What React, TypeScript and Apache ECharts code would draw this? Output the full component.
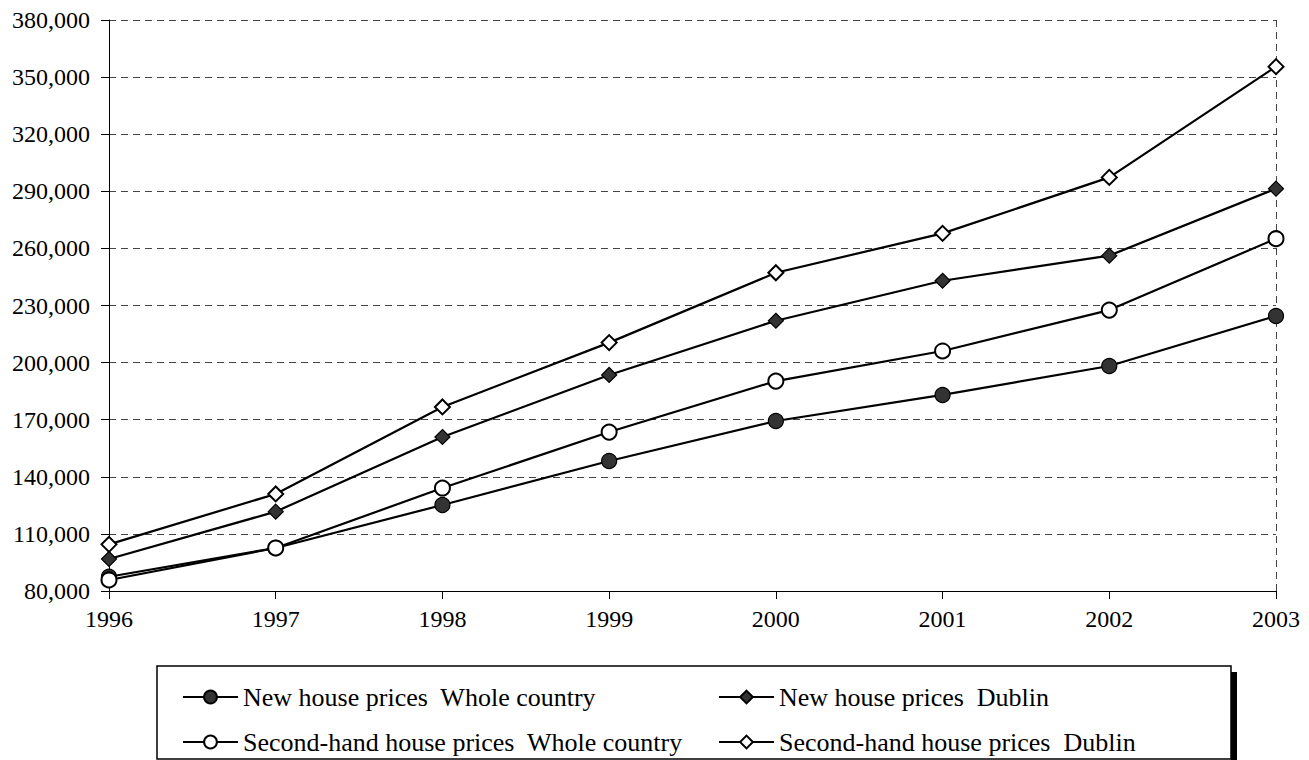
import React, { useEffect, useRef } from 'react';
import * as echarts from 'echarts';

const years = ['1996', '1997', '1998', '1999', '2000', '2001', '2002', '2003'];
const newWhole = [87500, 102600, 125200, 148300, 169300, 183000, 198200, 224500];
const secondWhole = [85800, 102600, 134100, 163500, 190300, 206100, 227600, 265100];
const newDublin = [96800, 121700, 160900, 193500, 222000, 243000, 256200, 291400];
const secondDublin = [104500, 131000, 176700, 210500, 247200, 267900, 297300, 355500];

const seriesNames = [
  'New house prices  Whole country',
  'Second-hand house prices  Whole country',
  'New house prices  Dublin',
  'Second-hand house prices  Dublin',
];

const yMin = 80000;
const yMax = 380000;
const yStep = 30000;

const FONT = 'Times New Roman, Liberation Serif, DejaVu Serif, serif';

export default function App() {
  const ref = useRef<HTMLDivElement>(null);
  useEffect(() => {
    if (!ref.current) return;
    const chart = echarts.init(ref.current, null, { renderer: 'svg' });
    const mk = (name: string, data: number[], symbol: string, filled: boolean) => ({
      name,
      type: 'line',
      data,
      symbol,
      symbolSize: 15,
      showSymbol: true,
      lineStyle: { color: '#000', width: 2.2 },
      itemStyle: {
        color: filled ? '#333333' : '#ffffff',
        borderColor: '#000',
        borderWidth: filled ? 1.2 : 2,
      },
      z: 3,
    });
    const legendBase = {
      orient: 'vertical',
      top: 679,
      itemWidth: 55,
      itemHeight: 16,
      itemGap: 19,
      textStyle: { fontSize: 26, fontFamily: FONT, color: '#000' },
    };
    chart.setOption({
      animation: false,
      backgroundColor: '#fff',
      textStyle: { fontFamily: FONT },
      grid: { left: 109, right: 33, top: 20, bottom: 169, containLabel: false },
      xAxis: {
        type: 'category',
        data: years,
        boundaryGap: false,
        axisLine: { show: true, lineStyle: { color: '#000', width: 1 } },
        axisTick: { show: true, length: 8, lineStyle: { color: '#000' } },
        axisLabel: { fontSize: 24, fontFamily: FONT, color: '#000', margin: 16 },
        splitLine: {
          show: true,
          interval: (index: number) => index === years.length - 1,
          lineStyle: { color: '#444', type: [7, 5], width: 1 },
        },
      },
      yAxis: {
        type: 'value',
        min: yMin,
        max: yMax,
        interval: yStep,
        axisLine: { show: true, lineStyle: { color: '#000', width: 1 } },
        axisTick: { show: true, length: 8, lineStyle: { color: '#000' } },
        axisLabel: {
          fontSize: 24,
          fontFamily: FONT,
          color: '#000',
          margin: 19,
          formatter: (v: number) => v.toLocaleString('en-US'),
        },
        splitLine: { show: true, lineStyle: { color: '#444', type: [7, 5], width: 1 } },
      },
      legend: [
        { ...legendBase, data: [seriesNames[0], seriesNames[1]], left: 177 },
        { ...legendBase, data: [seriesNames[2], seriesNames[3]], left: 713 },
      ],
      graphic: [
        {
          type: 'rect',
          shape: { x: 157, y: 666, width: 1074, height: 93 },
          style: { fill: 'none', stroke: '#000', lineWidth: 1.5 },
          z: 0,
        },
        {
          type: 'rect',
          shape: { x: 1231, y: 672, width: 6, height: 88 },
          style: { fill: '#000' },
          z: 0,
        },
      ],
      series: [
        mk(seriesNames[0], newWhole, 'circle', true),
        mk(seriesNames[1], secondWhole, 'circle', false),
        mk(seriesNames[2], newDublin, 'diamond', true),
        mk(seriesNames[3], secondDublin, 'diamond', false),
      ],
    });
    return () => chart.dispose();
  }, []);
  return (
    <div
      ref={ref}
      style={{ position: 'absolute', left: 0, top: 0, width: 1309, height: 760 }}
    />
  );
}
